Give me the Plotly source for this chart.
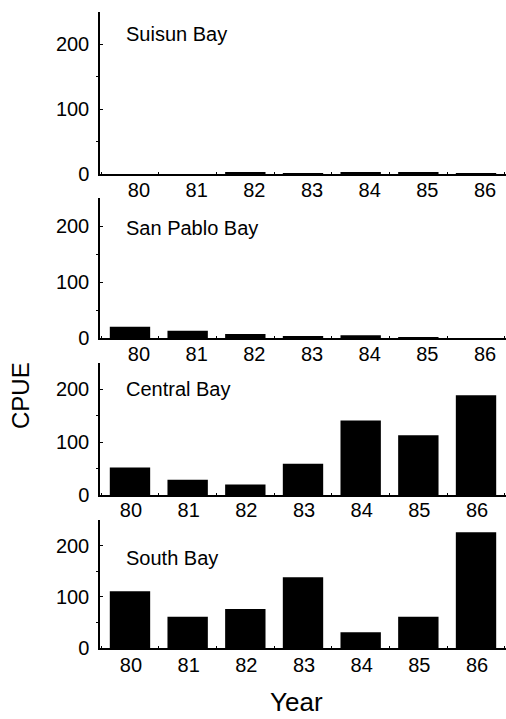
import plotly.graph_objects as go

years = ["80", "81", "82", "83", "84", "85", "86"]
regions = ["Suisun Bay", "San Pablo Bay", "Central Bay", "South Bay"]
suisun = [0, 0, 2, 1, 2, 3, 1]
san_pablo = [20, 13, 7, 2, 5, 1, 0]
central = [52, 29, 20, 59, 141, 113, 189]
south = [111, 61, 76, 138, 31, 61, 226]
series = [suisun, san_pablo, central, south]
ytick_vals = [0, 100, 200]
ytick_text = ["0", "100", "200"]

W, H = 506, 719
FONT = "Liberation Sans, Arial, Helvetica, sans-serif"

# pixel geometry (top of axis, zero line) for each panel
panel_px = [(12, 174), (198, 338), (363, 495), (520, 648)]
label_shift = [9, 9, 1, 1]
label_standoff = [-3, -3, -4, -2]
title_y_px = [33.5, 227.5, 389, 557.5]

fig = go.Figure()
for i, (name, vals) in enumerate(zip(regions, series)):
    n = i + 1
    xa = "x" if n == 1 else f"x{n}"
    ya = "y" if n == 1 else f"y{n}"
    fig.add_trace(go.Bar(x=years, y=vals, xaxis=xa, yaxis=ya,
                         marker=dict(color="black", line=dict(width=0)),
                         width=0.7, showlegend=False))
    top, zero = panel_px[i]
    xkey = "xaxis" if n == 1 else f"xaxis{n}"
    ykey = "yaxis" if n == 1 else f"yaxis{n}"
    fig.layout[xkey] = dict(
        domain=[100 / W, 1], anchor=ya, type="category", automargin=False,
        range=[-0.52, 6.52], showline=True, linecolor="black", linewidth=1.5,
        ticks="inside", ticklen=2, tickcolor="black", tickson="boundaries",
        showgrid=False, zeroline=False, ticklabelshift=label_shift[i],
        ticklabelstandoff=label_standoff[i], ticklabeloverflow="allow",
        tickfont=dict(family=FONT, size=20, color="black"), fixedrange=True)
    fig.layout[ykey] = dict(
        domain=[1 - zero / H, 1 - top / H], anchor=xa, automargin=False,
        range=[0, 250], showline=True, linecolor="black", linewidth=1.5,
        tickvals=ytick_vals, ticktext=ytick_text,
        ticks="inside", ticklen=3, tickcolor="black",
        minor=dict(tickvals=[50, 150], ticks="outside", ticklen=2, tickcolor="black"),
        showgrid=False, zeroline=False, ticklabelstandoff=5,
        tickfont=dict(family=FONT, size=20, color="black"), fixedrange=True)
    fig.add_annotation(text=name, xref="paper", yref="paper",
                       x=124 / W, y=1 - title_y_px[i] / H,
                       xanchor="left", yanchor="middle", showarrow=False,
                       font=dict(family=FONT, size=20, color="black"))

fig.add_annotation(text="CPUE", xref="paper", yref="paper", x=20 / W, y=1 - 396 / H,
                   xanchor="center", yanchor="middle", textangle=-90, showarrow=False,
                   font=dict(family=FONT, size=24, color="black"))
fig.add_annotation(text="Year", xref="paper", yref="paper", x=296 / W, y=1 - 702 / H,
                   xanchor="center", yanchor="middle", showarrow=False,
                   font=dict(family=FONT, size=26, color="black"))

fig.update_layout(width=W, height=H, margin=dict(l=0, r=0, t=0, b=0, autoexpand=False),
                  paper_bgcolor="white", plot_bgcolor="white", bargap=0.3)
fig.write_html("out.html", config={"displayModeBar": False},
               post_script="document.body.style.margin='0';document.body.style.overflow='hidden';")
